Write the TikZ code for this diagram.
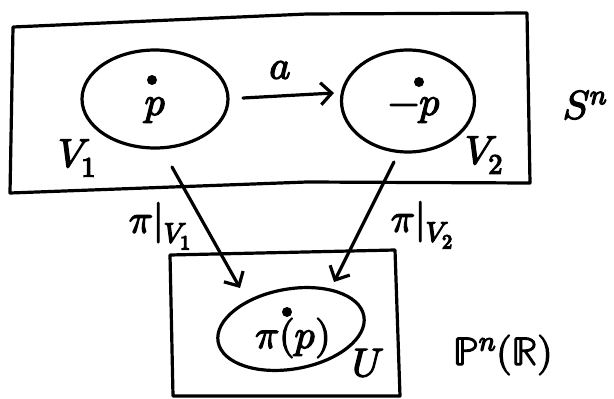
\documentclass[tikz,border=0pt]{standalone}
\usepackage{unicode-math}
\usetikzlibrary{shapes.geometric,arrows.meta}
\newcommand\heavyink[1]{\special{pdf:literal direct 2 Tr 1.3 w}#1\special{pdf:literal direct 0 Tr}}
\begin{document}
\begin{tikzpicture}[x=1pt,y=-1pt,
  ink/.style={line width=3.2pt,line cap=round,line join=round},
  region/.style={ink,draw,ellipse,inner sep=0pt},
  arr/.style={ink,-{Straight Barb[length=11pt,width=22pt]}},
  lbl/.style={inner sep=0pt,font=\fontsize{40}{44}\selectfont},
  pt/.style={circle,fill,inner sep=0pt,minimum size=10pt}]
\useasboundingbox (0,0) rectangle (614,399);
% spaces
\draw[ink] (13,27) -- (307,14) -- (527,13) -- (530,183) -- (307,182) -- (10,193) -- cycle;
\draw[ink] (170,255) -- (395,250) -- (400,396) -- (173,396) -- cycle;
% open sets
\node[region,minimum width=146pt,minimum height=98pt] (V1) at (155,99) {};
\node[region,minimum width=133pt,minimum height=102pt] (V2) at (408,101) {};
\node[region,minimum width=148pt,minimum height=80pt,rotate=10] (U) at (291,329) {};
% points
\node[pt] (d1) at (152,80) {};
\node[pt] (d2) at (419,82) {};
\node[pt] (d3) at (287,312) {};
\node[lbl] (p1) at (155,110) {\heavyink{$p$}};
\node[lbl] (p2) at (414,110) {\heavyink{$-p$}};
\node[lbl] (p3) at (293,338) {\heavyink{$\pi(p)$}};
% labels
\node[lbl] (lV1) at (77,158) {\heavyink{$V_1$}};
\node[lbl] (lV2) at (484,155) {\heavyink{$V_2$}};
\node[lbl] (lU) at (368,363) {\heavyink{$U$}};
\node[lbl] (lS) at (585,105) {\heavyink{$S^n$}};
\node[lbl] (lP) at (503,355) {\heavyink{$\mathbb{P}^n(\mathbb{R})$}};
% maps
\coordinate (a1) at (243,98);
\coordinate (a2) at (334,93);
\draw[arr] (a1) -- (a2);
\node[lbl] (la) at (280,70) {\heavyink{$a$}};
\coordinate (s1) at (172,167);
\coordinate (t1) at (240,288);
\coordinate (s2) at (394,162);
\coordinate (t2) at (334,282);
\draw[arr] (s1) -- (t1);
\draw[arr] (s2) -- (t2);
\node[lbl] (lpi1) at (160,226) {\heavyink{$\pi|_{V_1}$}};
\node[lbl] (lpi2) at (422,225) {\heavyink{$\pi|_{V_2}$}};
\end{tikzpicture}
\end{document}
